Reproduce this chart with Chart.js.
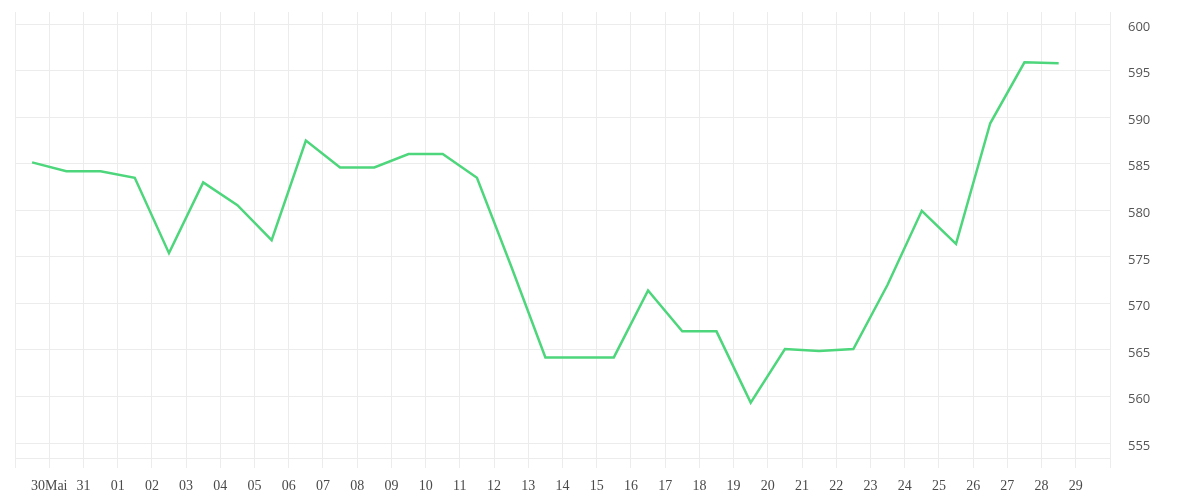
<!DOCTYPE html>
<html>
<head>
<meta charset="utf-8">
<script src="https://cdn.jsdelivr.net/npm/chart.js@4"></script>
<style>
  html, body { margin: 0; padding: 0; background: #ffffff; }
  canvas { display: block; }
</style>
</head>
<body>
<canvas id="c" width="1200" height="500"></canvas>
<script>
// Dates of the data points (each at mid-day)
const dates = ['29.05','30.05','31.05','01.06','02.06','03.06','04.06','05.06','06.06','07.06',
  '08.06','09.06','10.06','11.06','12.06','13.06','14.06','15.06','16.06','17.06',
  '18.06','19.06','20.06','21.06','22.06','23.06','24.06','25.06','26.06','27.06','28.06'];

// Series values
const values = [585.15, 584.2, 584.2, 583.5, 575.4, 583.0, 580.55, 576.8, 587.5, 584.6,
  584.6, 586.05, 586.05, 583.5, 574.0, 564.2, 564.2, 564.2, 571.4, 567.0,
  567.0, 559.35, 565.1, 564.9, 565.1, 572.0, 579.95, 576.4, 589.35, 595.9, 595.8];

// Day tick labels at midnight boundaries (29 May .. 30 Jun)
const dayTicks = ['', '30Mai', '31', '01', '02', '03', '04', '05', '06', '07', '08', '09', '10',
  '11', '12', '13', '14', '15', '16', '17', '18', '19', '20', '21', '22', '23', '24',
  '25', '26', '27', '28', '29', ''];

// Y axis range and tick step
const yMin = 553.4;
const yMax = 601.3;
const yStep = 5;

const gridColor = '#ececec';

const points = values.map((v, i) => ({ x: i + 0.5, y: v }));

new Chart(document.getElementById('c'), {
  type: 'line',
  data: {
    labels: dates,
    datasets: [{
      data: points,
      borderColor: '#4dd67b',
      borderWidth: 2.5,
      pointRadius: 0,
      pointHoverRadius: 0,
      tension: 0,
      fill: false
    }]
  },
  options: {
    responsive: false,
    animation: false,
    layout: { autoPadding: false, padding: { left: 15, top: 12, right: 0, bottom: 0 } },
    plugins: { legend: { display: false }, tooltip: { enabled: false } },
    scales: {
      x: {
        type: 'linear',
        min: 0,
        max: dayTicks.length - 1,
        grid: { color: gridColor, tickLength: 10, drawTicks: true },
        border: { color: gridColor },
        ticks: {
          stepSize: 1,
          autoSkip: false,
          maxRotation: 0,
          padding: 10,
          color: '#4a4a4a',
          font: { family: '"Liberation Serif", serif', size: 14 },
          callback: (v) => dayTicks[v] ?? ''
        },
        afterFit: (s) => { s.height = 42; s.paddingLeft = 0; s.paddingRight = 0; }
      },
      y: {
        position: 'right',
        min: yMin,
        max: yMax,
        grid: { color: gridColor, drawTicks: false },
        border: { color: gridColor },
        ticks: {
          stepSize: yStep,
          includeBounds: false,
          padding: 18,
          labelOffset: 3,
          color: '#555',
          font: { family: '"Open Sans", sans-serif', size: 13 }
        },
        afterFit: (s) => { s.width = 90; s.paddingTop = 0; s.paddingBottom = 0; }
      }
    }
  }
});
</script>
</body>
</html>
